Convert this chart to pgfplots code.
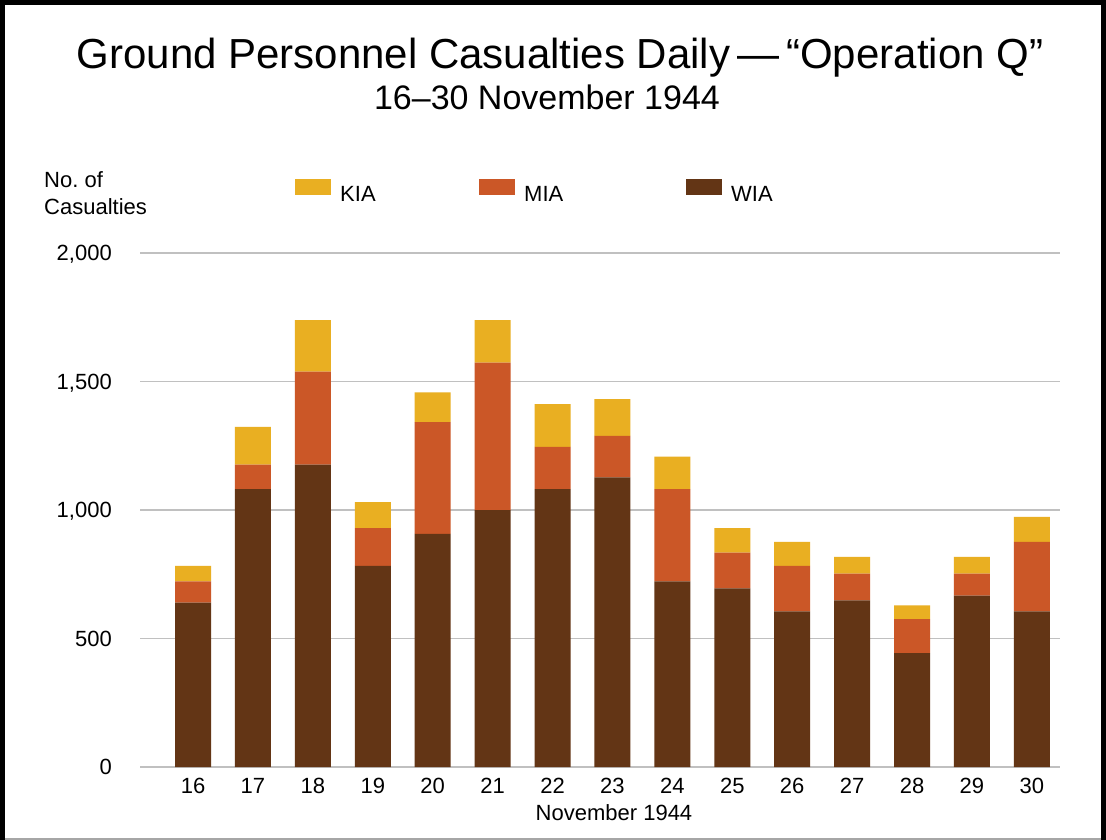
\documentclass[border=0pt]{standalone}
\usepackage{fontspec}
\setmainfont{Liberation Sans}
\usepackage{pgfplots}
\pgfplotsset{compat=1.18}
\definecolor{kia}{HTML}{E9AF22}
\definecolor{mia}{HTML}{CB5727}
\definecolor{wia}{HTML}{633515}
\definecolor{gridc}{HTML}{C0C0C0}
\newcommand{\smallfont}{\fontsize{22bp}{26bp}\selectfont}
\begin{document}
\begin{tikzpicture}[x=1bp,y=1bp]
\useasboundingbox (0,0) rectangle (1106,-840);
\fill[white] (0,0) rectangle (1106,-840);
\draw[gray!70, line width=1.5] (0,-839) -- (1106,-839);
\draw[black, line width=5] (2.5,-840) -- (2.5,-2.5) -- (1103.5,-2.5) -- (1103.5,-840);
\node[anchor=base, inner sep=0pt, font=\fontsize{42bp}{50bp}\selectfont] at (560,-68) {Ground Personnel Casualties Daily\,—\,“Operation Q”};
\node[anchor=base, inner sep=0pt, font=\fontsize{34bp}{40bp}\selectfont] at (547,-109) {16–30 November 1944};
\node[anchor=base west, inner sep=0pt, font=\smallfont] at (44,-187) {No.\ of};
\node[anchor=base west, inner sep=0pt, font=\smallfont] at (44,-214) {Casualties};
\node[anchor=base, inner sep=0pt, font=\smallfont] at (614,-820) {November 1944};
\begin{axis}[
  at={(140bp,-767bp)}, anchor=south west,
  scale only axis, width=920bp, height=514bp,
  xmin=-0.885, xmax=14.47, ymin=0, ymax=2000,
  enlargelimits=false,
  ytick={0,500,1000,1500,2000},
  xtick={0,...,14},
  xticklabels={16,17,18,19,20,21,22,23,24,25,26,27,28,29,30},
  ymajorgrids, grid style={gridc, line width=1.5bp},
  axis line style={draw=none},
  major tick length=0pt,
  /pgf/number format/assume math mode=true,
  /pgf/number format/1000 sep={,},
  yticklabel style={font=\smallfont, anchor=base east, inner sep=0pt, xshift=-28bp, yshift=-7.9bp},
  xticklabel style={font=\smallfont, anchor=base, inner sep=0pt, yshift=-26bp},
  ybar stacked, bar width=36bp,
  legend columns=3,
  reverse legend,
  legend image code/.code={\fill[#1] (0bp,-1bp) rectangle (36bp,15bp);},
  legend style={at={(axis description cs:0.1685,1.1435)}, anchor=north west,
    draw=none, fill=none, inner sep=0pt, font=\smallfont,
    /tikz/every odd column/.append style={column sep=9bp},
    nodes={inner sep=0pt}},
  legend cell align=left,
]
\addplot[fill=wia, draw=none] coordinates {
(0,640) (1,1081) (2,1177) (3,783) (4,907) (5,1000) (6,1081) (7,1127)
(8,722) (9,695) (10,606) (11,648) (12,443) (13,667) (14,606)};
\addlegendentry{WIA}
\addplot[fill=mia, draw=none] coordinates {
(0,82) (1,96) (2,361) (3,147) (4,435) (5,573) (6,165) (7,161)
(8,359) (9,139) (10,177) (11,104) (12,132) (13,85) (14,270)};
\addlegendentry{\makebox[162bp][l]{MIA}}
\addplot[fill=kia, draw=none] coordinates {
(0,61) (1,146) (2,201) (3,101) (4,116) (5,166) (6,166) (7,143)
(8,127) (9,96) (10,93) (11,66) (12,54) (13,66) (14,97)};
\addlegendentry{\makebox[139bp][l]{KIA}}
\end{axis}
\end{tikzpicture}
\end{document}
